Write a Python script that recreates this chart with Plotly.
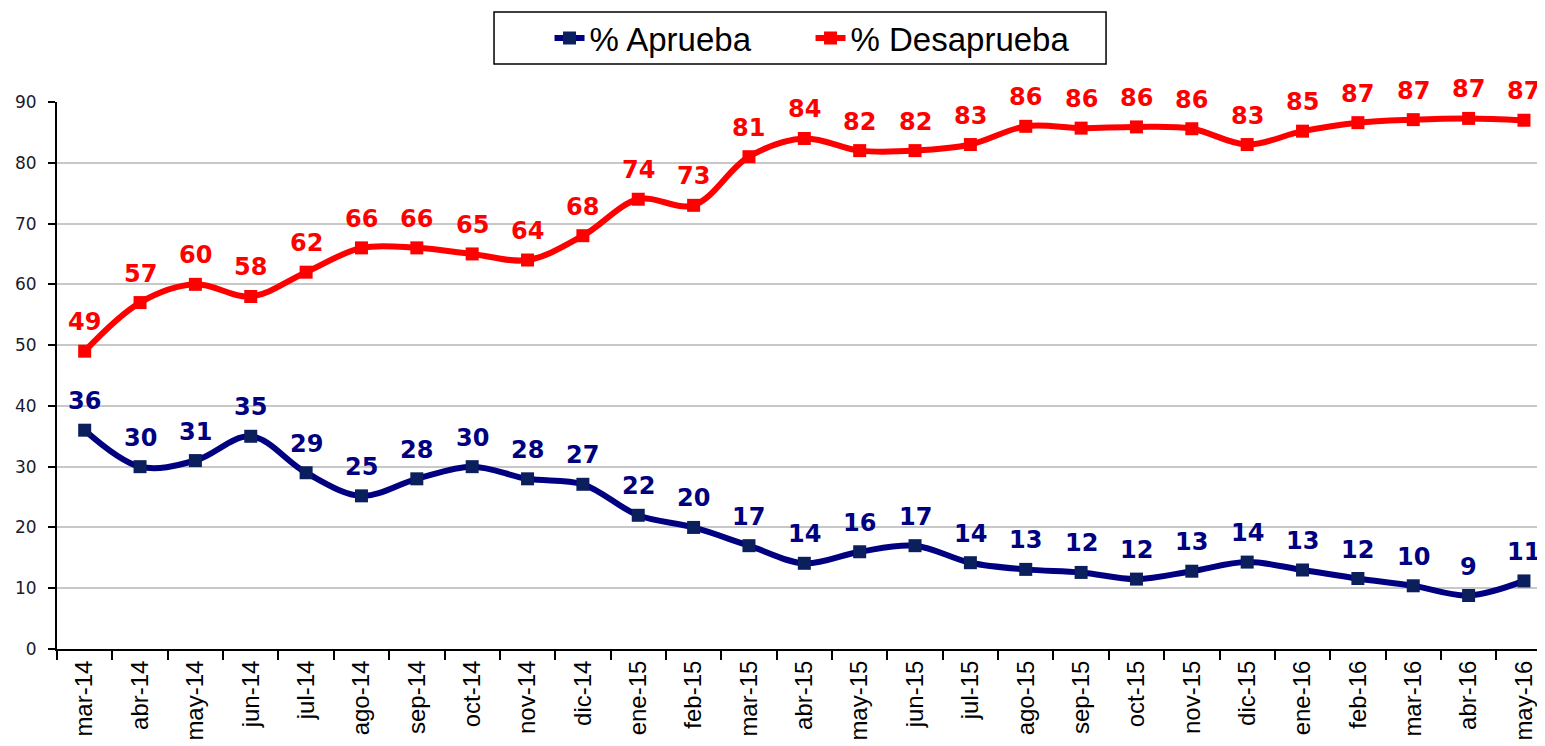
import plotly.graph_objects as go

months = ["mar-14", "abr-14", "may-14", "jun-14", "jul-14", "ago-14", "sep-14", "oct-14",
          "nov-14", "dic-14", "ene-15", "feb-15", "mar-15", "abr-15", "may-15", "jun-15",
          "jul-15", "ago-15", "sep-15", "oct-15", "nov-15", "dic-15", "ene-16", "feb-16",
          "mar-16", "abr-16", "may-16"]

aprueba = [36, 30, 31, 35, 29, 25.2, 28, 30, 28, 27.1, 22, 20, 17, 14.1, 16, 17,
           14.2, 13.1, 12.6, 11.5, 12.8, 14.3, 13, 11.6, 10.4, 8.8, 11.2]
aprueba_labels = ["36", "30", "31", "35", "29", "25", "28", "30", "28", "27", "22", "20",
                  "17", "14", "16", "17", "14", "13", "12", "12", "13", "14", "13", "12",
                  "10", "9", "11"]

desaprueba = [49, 57, 60, 58, 62, 66, 66, 65, 64, 68, 74, 73, 81, 84, 82, 82, 83, 86,
              85.7, 85.9, 85.6, 83, 85.2, 86.6, 87.1, 87.3, 87]
desaprueba_labels = ["49", "57", "60", "58", "62", "66", "66", "65", "64", "68", "74", "73",
                     "81", "84", "82", "82", "83", "86", "86", "86", "86", "83", "85", "87",
                     "87", "87", "87"]

y_ticks = [0, 10, 20, 30, 40, 50, 60, 70, 80, 90]

NAVY = "#000080"
NAVY_MK = "#0b1f5c"
RED = "#ff0000"

fig = go.Figure()
fig.add_trace(go.Scatter(
    x=months, y=aprueba, name="% Aprueba", mode="lines+markers",
    line=dict(color=NAVY, width=6, shape="spline", smoothing=1),
    marker=dict(symbol="square", size=13, color=NAVY_MK),
))
fig.add_trace(go.Scatter(
    x=months, y=desaprueba, name="% Desaprueba", mode="lines+markers",
    line=dict(color=RED, width=6, shape="spline", smoothing=1),
    marker=dict(symbol="square", size=13, color=RED),
))

for xs, ys, labs, col in [(months, aprueba, aprueba_labels, NAVY),
                          (months, desaprueba, desaprueba_labels, RED)]:
    for xv, yv, t in zip(xs, ys, labs):
        fig.add_annotation(x=xv, y=yv, text=t, showarrow=False, yshift=29,
                           yanchor="middle", xanchor="center",
                           font=dict(family="DejaVu Sans", size=24, color=col, weight="bold"))

# legend frame
fig.add_shape(type="rect", xref="paper", yref="paper",
              x0=0.2937, x1=0.705, y0=1.0695, y1=1.1645,
              line=dict(color="black", width=1.5), fillcolor="rgba(0,0,0,0)", layer="above")

fig.update_layout(
    width=1537, height=738,
    margin=dict(l=49, r=0, t=94, b=97, autoexpand=False),
    paper_bgcolor="white", plot_bgcolor="white",
    showlegend=True,
    legend=dict(
        orientation="h", x=0.331, xanchor="left", y=1.117, yanchor="middle",
        borderwidth=0, bgcolor="rgba(0,0,0,0)",
        font=dict(family="Liberation Sans", size=33, color="black"),
        entrywidth=216, entrywidthmode="pixels",
    ),
)
fig.update_xaxes(
    type="category", categoryorder="array", categoryarray=months,
    range=[-0.5, 26.38],
    showgrid=False, showline=True, linecolor="black", linewidth=2,
    ticks="outside", tickson="boundaries", ticklen=9, tickwidth=2, tickcolor="black",
    tickangle=-90, tickfont=dict(family="Liberation Sans", size=24, color="black"),
    automargin=False,
)
fig.update_yaxes(
    range=[0, 90], tickvals=y_ticks,
    showgrid=True, gridcolor="#c8c8c8", gridwidth=1.5,
    showline=True, linecolor="black", linewidth=2,
    ticks="outside", ticklen=7, tickwidth=2, tickcolor="black",
    ticklabelstandoff=8,
    tickfont=dict(family="DejaVu Sans", size=17, color="#1a1a2e"),
    zeroline=False, automargin=False,
)

fig.write_html("out.html")
